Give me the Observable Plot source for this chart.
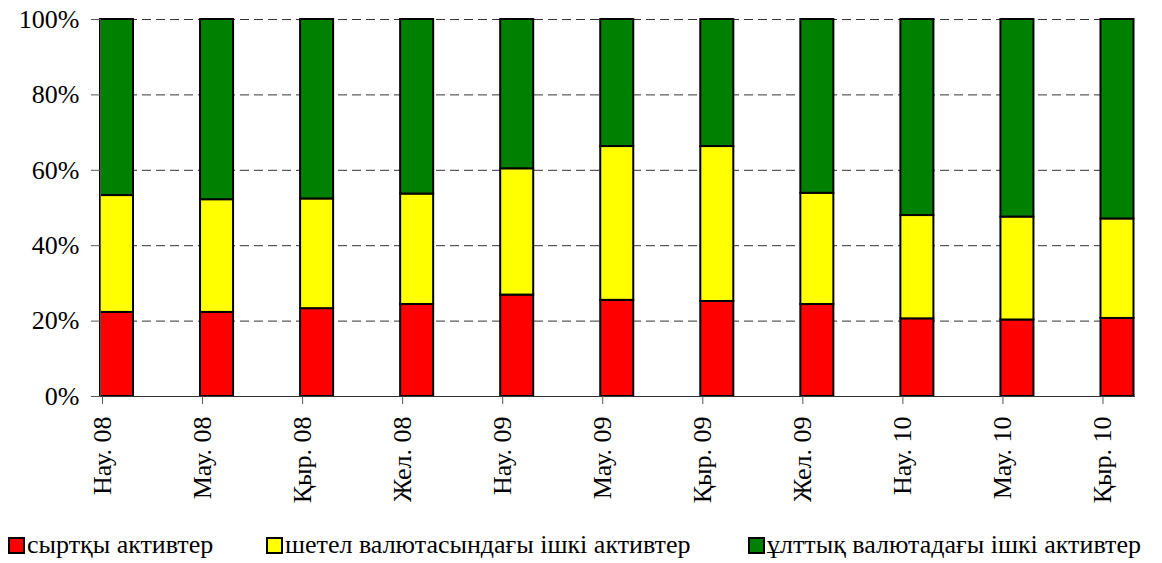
<!DOCTYPE html>
<html>
<head>
<meta charset="utf-8">
<script src="https://cdn.jsdelivr.net/npm/d3@7"></script>
<script src="https://cdn.jsdelivr.net/npm/@observablehq/plot@0.6"></script>
<style>
  .ser { font-family: 'Liberation Serif'; font-size: 26px; }
  .item { position: absolute; top: 0; height: 37px; line-height: 37px; white-space: nowrap; }
  .sw { display: inline-block; width: 13px; height: 13px; border: 2px solid #000; margin-right: 2px; vertical-align: -1px; }
</style>
</head>
<body style="margin:0;font-size:26px;font-family:'Liberation Serif'">
<div id="chart" class="ser" style="width:1162px"></div>
<div id="legend" class="ser" style="position:relative;width:1162px;height:37px"></div>
<script>
const categories = ["Нау. 08", "Мау. 08", "Қыр. 08", "Жел. 08", "Нау. 09", "Мау. 09", "Қыр. 09", "Жел. 09", "Нау. 10", "Мау. 10", "Қыр. 10"];
const seriesNames = ["сыртқы активтер", "шетел валютасындағы ішкі активтер", "ұлттық валютадағы ішкі активтер"];
const seriesColors = ["#FF0000", "#FFFF00", "#008000"];
// shares, %
const external = [22.3, 22.3, 23.3, 24.4, 26.9, 25.5, 25.2, 24.4, 20.6, 20.3, 20.7];
const foreignDomestic = [31.0, 29.9, 29.1, 29.3, 33.5, 40.8, 41.1, 29.5, 27.4, 27.3, 26.4];
const nationalDomestic = [46.7, 47.8, 47.6, 46.3, 39.6, 33.7, 33.7, 46.1, 52.0, 52.4, 52.9];
const yTicks = [0, 20, 40, 60, 80, 100];

const seriesValues = [external, foreignDomestic, nationalDomestic];
const rows = [];
categories.forEach((c, i) => {
  let acc = 0;
  seriesValues.forEach((vals, s) => {
    const v = vals[i];
    rows.push({i, cat: c, series: seriesNames[s], y1: acc, y2: acc + v});
    acc += v;
  });
});
const font = "Liberation Serif";

const chart = Plot.plot({
  width: 1162,
  height: 526,
  marginLeft: 100,
  marginRight: 27,
  marginTop: 19,
  marginBottom: 130,
  style: {fontFamily: font, fontSize: "26px"},
  x: {type: "linear", domain: [0, 10.345], axis: null},
  y: {domain: [0, 100], axis: null},
  color: {domain: seriesNames, range: seriesColors},
  marks: [
    Plot.ruleY(yTicks.filter(d => d > 0), {stroke: "#333", strokeWidth: 1, strokeDasharray: "9,5"}),
    Plot.rect(rows, {x1: d => d.i, x2: d => d.i + 0.33, y1: "y1", y2: "y2", fill: "series", stroke: "#000", strokeWidth: 2}),
    Plot.ruleX([0], {stroke: "#555", strokeWidth: 1}),
    Plot.ruleY([0], {stroke: "#333", strokeWidth: 1}),
    Plot.axisY({ticks: yTicks, tickFormat: d => d + "%", tickSize: 9, tickPadding: 12, fontSize: 26, fontFamily: font, stroke: "#555", fill: "#000", label: null}),
    Plot.axisX({ticks: d3.range(categories.length), tickFormat: i => categories[i], tickSize: 8, tickPadding: 12, tickRotate: -90, fontSize: 26, fontFamily: font, stroke: "#555", fill: "#000", dx: 2, label: null})
  ]
});
document.getElementById("chart").appendChild(chart);

const legendX = [8, 266, 748];
const legend = document.getElementById("legend");
seriesNames.forEach((name, s) => {
  const item = document.createElement("div");
  item.className = "item ser";
  item.style.left = legendX[s] + "px";
  const sw = document.createElement("span");
  sw.className = "sw";
  sw.style.background = seriesColors[s];
  item.appendChild(sw);
  item.appendChild(document.createTextNode(name));
  legend.appendChild(item);
});
</script>
</body>
</html>
